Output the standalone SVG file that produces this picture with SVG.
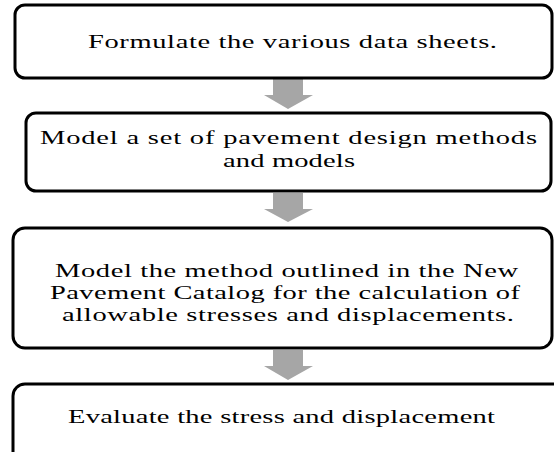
<svg xmlns="http://www.w3.org/2000/svg" width="554" height="452" viewBox="0 0 554 452">
<style>
.box{fill:#ffffff;stroke:#000000;stroke-width:3}
.arrow{fill:#a6a6a6;stroke:none}
.t{font-family:'Liberation Serif','DejaVu Serif','Times New Roman',serif;font-size:19px;fill:#000000}
</style>
<rect x="0" y="0" width="554" height="452" fill="#ffffff"/>
<g id="connectors">
<polygon class="arrow" points="273,79 303,79 303,95 313,95 288,109 264,95 273,95"/>
<polygon class="arrow" points="273,193 303,193 303,209 313,209 288,222 264,209 273,209"/>
<polygon class="arrow" points="273,350 303,350 303,366 313,366 288,380 264,366 273,366"/>
</g>
<g id="node1">
<rect class="box" x="15" y="5" width="537" height="73" rx="10"/>
<text class="t" font-family="Liberation Serif, serif" transform="scale(1.5,1)" x="58.67" y="48" textLength="272.67" lengthAdjust="spacing">Formulate the various data sheets.</text>
</g>
<g id="node2">
<rect class="box" x="26" y="113" width="525" height="78" rx="10"/>
<text class="t" font-family="Liberation Serif, serif" transform="scale(1.5,1)" x="26.67" y="144" textLength="331.33" lengthAdjust="spacing">Model a set of pavement design methods</text>
<text class="t" font-family="Liberation Serif, serif" transform="scale(1.5,1)" x="148.67" y="167" textLength="88" lengthAdjust="spacing">and models</text>
</g>
<g id="node3">
<rect class="box" x="13" y="228" width="539" height="120" rx="12"/>
<text class="t" font-family="Liberation Serif, serif" transform="scale(1.5,1)" x="36.67" y="277" textLength="308.67" lengthAdjust="spacing">Model the method outlined in the New</text>
<text class="t" font-family="Liberation Serif, serif" transform="scale(1.5,1)" x="33.33" y="299" textLength="313.33" lengthAdjust="spacing">Pavement Catalog for the calculation of</text>
<text class="t" font-family="Liberation Serif, serif" transform="scale(1.5,1)" x="41.33" y="321" textLength="301.33" lengthAdjust="spacing">allowable stresses and displacements.</text>
</g>
<g id="node4">
<rect class="box" x="13" y="384" width="570" height="100" rx="12"/>
<text class="t" font-family="Liberation Serif, serif" transform="scale(1.5,1)" x="45.33" y="423" textLength="284.67" lengthAdjust="spacing">Evaluate the stress and displacement</text>
</g>
</svg>
